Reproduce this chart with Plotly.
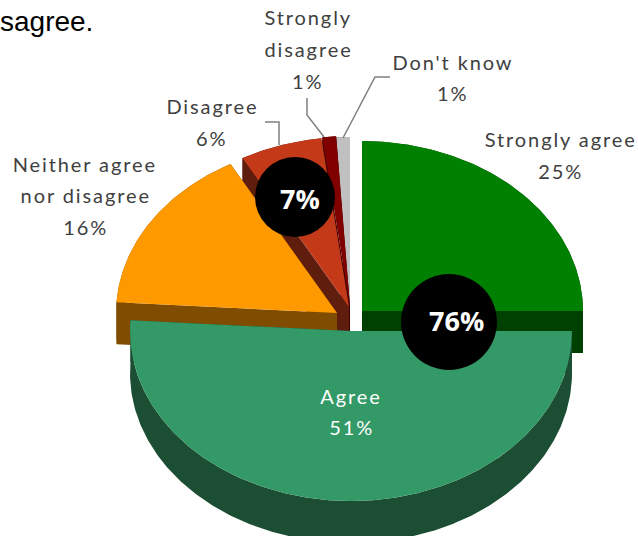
import numpy as np
import plotly.graph_objects as go

categories = ["Strongly agree", "Agree", "Neither agree nor disagree", "Disagree", "Strongly disagree", "Don't know"]
values = [25, 51, 16, 6, 1, 1]
top_colors = ["#008000", "#339966", "#FF9900", "#C43A19", "#800000", "#C0C0C0"]
side_colors = ["#004000", "#1C4E33", "#804D00", "#5E1D0D", "#400000", "#606060"]
centers = [(362, 311), (351, 331), (337, 313), (349, 307), (350, 306), (350, 307)]
draw_order = [0, 5, 4, 3, 2, 1]

RX, RY, DEPTH = 221, 170, 42
SANS = "Lato, sans-serif"
GREY = "#404040"

cum = np.concatenate([[0], np.cumsum(values)]) / sum(values) * 2 * np.pi


def arc(i):
    t = np.linspace(cum[i], cum[i + 1], max(8, int(values[i] * 6)))
    cx, cy = centers[i]
    return cx + RX * np.sin(t), cy - RY * np.cos(t)


def poly(xs, ys, color, name):
    return go.Scatter(x=list(xs), y=list(ys), mode="lines", fill="toself", fillcolor=color,
                      line=dict(width=0, color=color), hoverinfo="skip", showlegend=False, name=name)


fig = go.Figure()
for i in draw_order:
    cx, cy = centers[i]
    ax, ay = arc(i)
    dark = side_colors[i]
    # extruded sides: outer band and the two cut faces
    fig.add_trace(poly(np.r_[ax, ax[::-1]], np.r_[ay, ay[::-1] + DEPTH], dark, categories[i]))
    for k in (0, -1):
        fig.add_trace(poly([cx, ax[k], ax[k], cx], [cy, ay[k], ay[k] + DEPTH, cy + DEPTH], dark, categories[i]))
    # top face
    fig.add_trace(poly(np.r_[cx, ax], np.r_[cy, ay], top_colors[i], categories[i]))

leaders = [
    ([265, 279, 279], [122, 122, 145]),
    ([307, 307, 324], [98, 115, 137]),
    ([390, 375, 343], [77, 77, 138]),
]
for lx, ly in leaders:
    fig.add_trace(go.Scatter(x=lx, y=ly, mode="lines", line=dict(color="#7F7F7F", width=1.5),
                             hoverinfo="skip", showlegend=False))

# group callouts
badge_x = [295, 449]
badge_y = [197, 322]
badge_size = [80, 96]
fig.add_trace(go.Scatter(x=badge_x, y=badge_y, mode="markers",
                         marker=dict(color="black", size=badge_size, opacity=1, line=dict(width=0)),
                         hoverinfo="skip", showlegend=False))

label_lines = ["Strongly", "disagree", "1%", "Don't know", "1%", "Strongly agree", "25%", "Disagree", "6%",
               "Neither agree", "nor disagree", "16%", "Agree", "51%"]
label_x = [308, 308, 308, 453, 453, 560, 560, 212, 212, 85, 85, 85, 351, 351]
label_y = [17, 49, 81, 62, 93, 139, 171, 106, 138, 164, 195, 227, 396, 427]
label_color = [GREY] * 12 + ["white", "white"]

annotations = [dict(x=x, y=y, text=t, showarrow=False, xanchor="center", yanchor="middle",
                    font=dict(family=SANS, size=20, color=c))
               for t, x, y, c in zip(label_lines, label_x, label_y, label_color)]
annotations += [
    dict(x=300, y=198, text="<b>7%</b>", showarrow=False, font=dict(family="Open Sans, sans-serif", size=27, color="white")),
    dict(x=456, y=320, text="<b>76%</b>", showarrow=False, font=dict(family="Open Sans, sans-serif", size=27, color="white")),
    dict(x=0, xref="paper", xshift=-2, y=21, text="sagree.", showarrow=False, xanchor="left", yanchor="middle",
         font=dict(family="Liberation Sans, Arial, sans-serif", size=28, color="black")),
]

fig.update_layout(
    width=638, height=536, margin=dict(l=0, r=0, t=0, b=0), autosize=False,
    paper_bgcolor="white", plot_bgcolor="white", showlegend=False,
    xaxis=dict(range=[0, 638], visible=False, fixedrange=True),
    yaxis=dict(range=[536, 0], visible=False, fixedrange=True),
    annotations=annotations,
)
css = ("document.body.style.margin='0';"
       "var s=document.createElement('style');"
       "s.textContent='.annotation-text[style*=\"Lato\"]{letter-spacing:1.9px}';"
       "document.head.appendChild(s);")
fig.write_html("out.html", post_script=css, config=dict(displayModeBar=False))
